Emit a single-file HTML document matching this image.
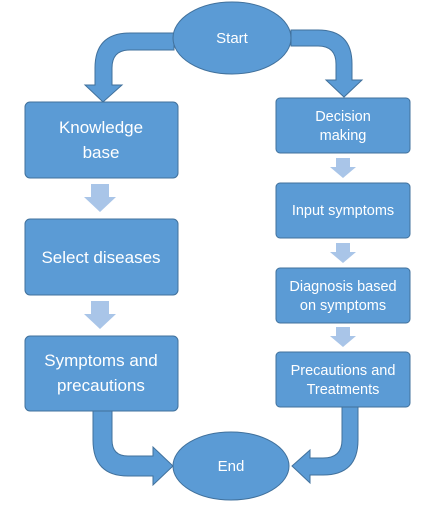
<!DOCTYPE html>
<html><head><style>html,body{margin:0;padding:0;background:#fff}</style></head><body>
<svg width="436" height="510" viewBox="0 0 436 510" xmlns="http://www.w3.org/2000/svg" font-family="Liberation Sans, sans-serif">
<g fill="#5b9bd5" stroke="#41719c" stroke-width="1">
<!-- top-left bent arrow -->
<path d="M174,33 L130,33 Q95,33 95,68 L95,85 L85,85 L103,102 L122,85 L112,85 L112,68 Q112,50 130,50 L174,50 Z"/>
<!-- top-right bent arrow -->
<path d="M291,30 L318,30 Q352,30 352,64 L352,80 L362,80 L344,97 L326,80 L336,80 L336,64 Q336,46 318,46 L291,46 Z"/>
<!-- bottom-left -->
<path d="M93,411 L93,440 Q93,476 128,476 L153,476 L153,485 L173,466 L153,447 L153,456 L128,456 Q112,456 112,440 L112,411 Z"/>
<!-- bottom-right -->
<path d="M358,407 L358,440 Q358,475 323,475 L310,475 L310,483 L292,466 L310,450 L310,458 L323,458 Q342,458 342,440 L342,407 Z"/>
<ellipse cx="232" cy="38" rx="59" ry="36"/>
<ellipse cx="231" cy="466" rx="58" ry="34"/>
<rect x="25" y="102" width="153" height="76" rx="5"/>
<rect x="25" y="219" width="153" height="76" rx="5"/>
<rect x="25" y="336" width="153" height="75" rx="5"/>
<rect x="276" y="98" width="134" height="55" rx="4"/>
<rect x="276" y="183" width="134" height="55" rx="4"/>
<rect x="276" y="268" width="134" height="55" rx="4"/>
<rect x="276" y="352" width="134" height="55" rx="4"/>
</g>
<g fill="#a9c5e8">
<path d="M91,184 L109,184 L109,197 L116,197 L100,212 L84,197 L91,197 Z"/>
<path d="M91,301 L109,301 L109,314 L116,314 L100,329 L84,314 L91,314 Z"/>
<path d="M336,158 L350,158 L350,167 L356,167 L343,178 L330,167 L336,167 Z"/>
<path d="M336,243 L350,243 L350,252 L356,252 L343,263 L330,252 L336,252 Z"/>
<path d="M336,327 L350,327 L350,336 L356,336 L343,347 L330,336 L336,336 Z"/>
</g>
<g fill="#fff" text-anchor="middle">
<text x="232" y="43" font-size="15">Start</text>
<text x="231" y="471" font-size="15">End</text>
<g font-size="17">
<text x="101" y="133">Knowledge</text>
<text x="101" y="158">base</text>
<text x="101" y="263">Select diseases</text>
<text x="101" y="366">Symptoms and</text>
<text x="101" y="391">precautions</text>
</g>
<g font-size="14.5">
<text x="343" y="121">Decision</text>
<text x="343" y="140">making</text>
<text x="343" y="215">Input symptoms</text>
<text x="343" y="291">Diagnosis based</text>
<text x="343" y="310">on symptoms</text>
<text x="343" y="375">Precautions and</text>
<text x="343" y="394">Treatments</text>
</g>
</g>
</svg>
</body></html>
